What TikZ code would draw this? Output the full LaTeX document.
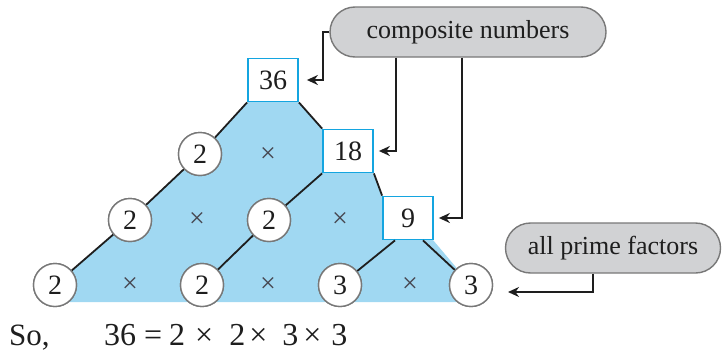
\documentclass[tikz,border=0pt]{standalone}
\usepackage{fontspec}
\setmainfont{Liberation Serif}
\usetikzlibrary{shapes.misc,arrows.meta}
\definecolor{skyfill}{RGB}{160,216,242}
\definecolor{boxline}{RGB}{20,165,224}
\definecolor{calloutfill}{RGB}{209,210,212}
\definecolor{calloutline}{RGB}{120,120,120}
\definecolor{inkdark}{RGB}{30,30,30}
\definecolor{timesgray}{RGB}{70,70,80}
\tikzset{
  numbox/.style={draw=boxline, line width=1.8pt, fill=white, minimum width=50pt, minimum height=43pt, inner sep=0pt, font=\fontsize{28}{30}\selectfont, text=inkdark},
  numcirc/.style={circle, draw=calloutline, line width=1.4pt, fill=white, minimum size=43pt, inner sep=0pt, font=\fontsize{28}{30}\selectfont, text=inkdark},
  timessign/.style={font=\fontsize{28}{30}\selectfont, text=timesgray, inner sep=0pt},
  callout/.style={rounded rectangle, draw=calloutline, line width=1.4pt, fill=calloutfill, minimum height=50pt, inner sep=0pt, font=\fontsize{26}{30}\selectfont, text=inkdark},
  treeline/.style={draw=inkdark, line width=1.8pt},
  pointer/.style={draw=inkdark, line width=1.8pt, -{Stealth[length=11pt,width=10pt]}},
}
\begin{document}
\begin{tikzpicture}[x=1pt,y=-1pt]
\useasboundingbox (0,0) rectangle (723,351);
% blue region
\fill[skyfill] (55,285) -- (130,220) -- (200,154) -- (248,102) -- (298,102) -- (323,129) -- (373,173) -- (383,197) -- (433,240) -- (471,285) -- (471,302) -- (55,302) -- cycle;
% nodes
\node[numbox] (b36) at (273,80) {36};
\node[numbox] (b18) at (348,151) {18};
\node[numbox] (b9) at (408,218) {9};
\node[numcirc] (c1) at (200,154) {2};
\node[numcirc] (c2a) at (130,220) {2};
\node[numcirc] (c2b) at (269,220) {2};
\node[numcirc] (c3a) at (55,285) {2};
\node[numcirc] (c3b) at (202,285) {2};
\node[numcirc] (c3c) at (340,285) {3};
\node[numcirc] (c3d) at (471,285) {3};
% tree lines
\draw[treeline] (c3a) -- (c2a);
\draw[treeline] (c2a) -- (c1);
\draw[treeline] (c1) -- (b36.south west);
\draw[treeline] (b36.south east) -- (b18.north west);
\draw[treeline] (b18.south west) -- (c2b);
\draw[treeline] (c2b) -- (c3b);
\draw[treeline] (b18.south east) -- (b9.north west);
\draw[treeline] ([xshift=-13pt]b9.south) -- (c3c);
\draw[treeline] ([xshift=15pt]b9.south) -- (c3d);
% redraw circles on top of lines
\node[numcirc] at (c1) {2};
\node[numcirc] at (c2a) {2};
\node[numcirc] at (c2b) {2};
\node[numcirc] at (c3a) {2};
\node[numcirc] at (c3b) {2};
\node[numcirc] at (c3c) {3};
\node[numcirc] at (c3d) {3};
% multiplication signs
\node[timessign] (m1) at (268,155) {×};
\node[timessign] (m2) at (197,220) {×};
\node[timessign] (m3) at (340,220) {×};
\node[timessign] (m4) at (130,285) {×};
\node[timessign] (m5) at (268,285) {×};
\node[timessign] (m6) at (410,285) {×};
% callouts
\node[callout, minimum width=276pt] (cn) at (468,32) {composite numbers};
\node[callout, minimum width=215pt] (pf) at (613,248) {all prime factors};
% pointers
\coordinate (k1) at (323,32);
\draw[pointer] (cn.west) -- (k1) |- ([xshift=8pt]b36.east);
\draw[pointer] ([xshift=-72pt]cn.south) |- ([xshift=5pt]b18.east);
\draw[pointer] ([xshift=-6pt]cn.south) |- ([xshift=5pt]b9.east);
\coordinate (pt) at (508,292);
\draw[pointer] ([xshift=-20pt]pf.south) |- (pt);
% conclusion
\node[anchor=base west, inner sep=0pt, font=\fontsize{31}{34}\selectfont, text=inkdark] (so) at (9,345) {So,};
\node[anchor=base west, inner sep=0pt, font=\fontsize{32}{34}\selectfont, text=inkdark] (eq) at (104,345) {36\hspace{8pt}=\hspace{7pt}2\hspace{10pt}×\hspace{16pt}2\hspace{4pt}×\hspace{15pt}3\hspace{5pt}×\hspace{10pt}3};
\end{tikzpicture}
\end{document}
